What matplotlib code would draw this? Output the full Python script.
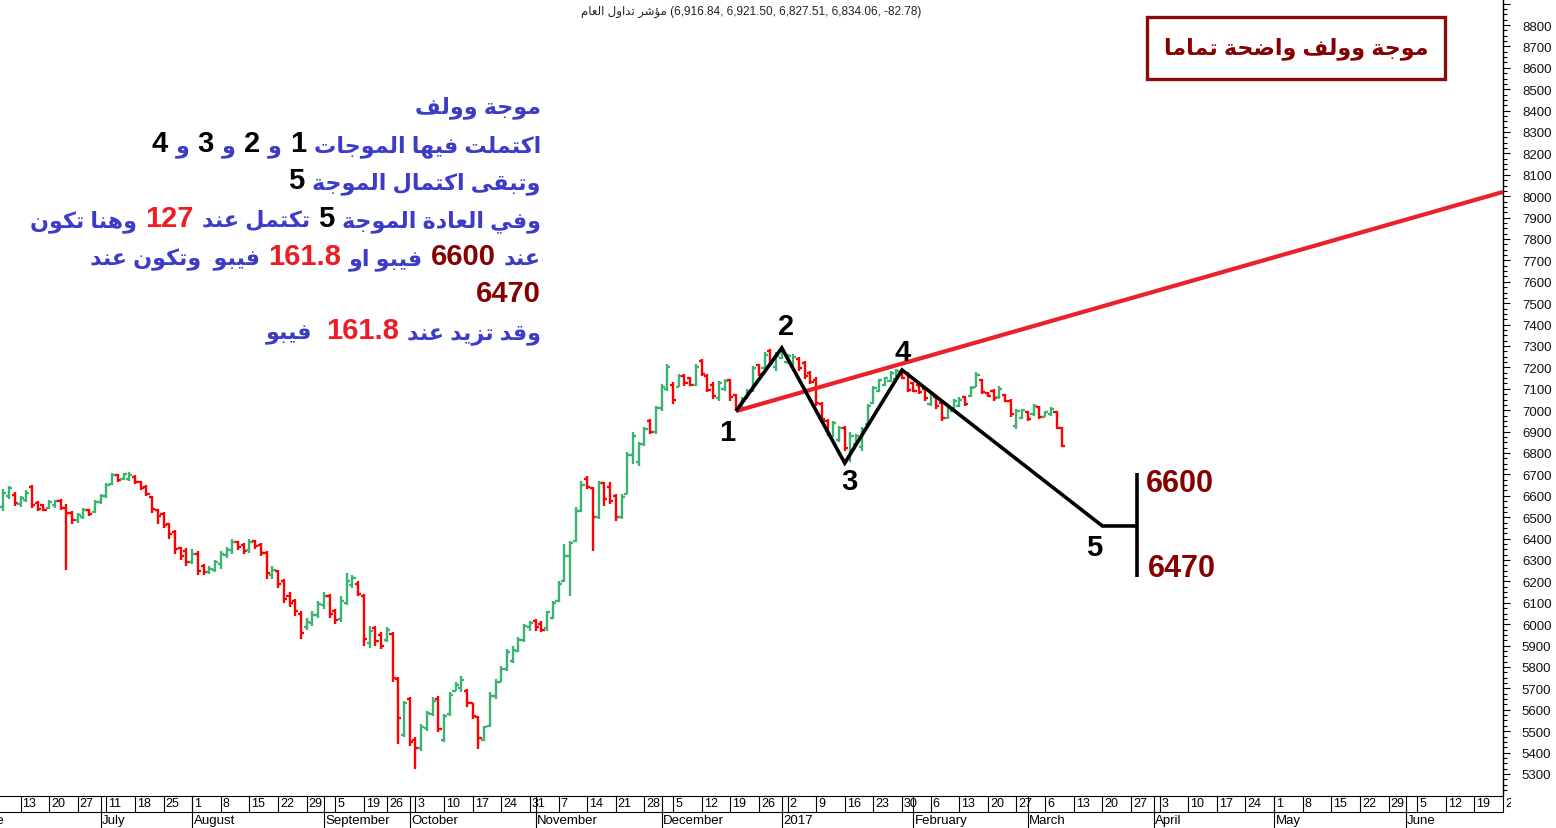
import numpy as np
import pandas as pd
import matplotlib
matplotlib.use('Agg')
import matplotlib.pyplot as plt
from matplotlib.collections import LineCollection
from matplotlib.patches import Rectangle
from matplotlib.ticker import MultipleLocator, FuncFormatter

# ---------------- data ----------------
holidays = ['2016-07-03', '2016-07-04', '2016-07-05', '2016-07-06', '2016-07-07',
            '2016-09-11', '2016-09-12', '2016-09-13', '2016-09-14', '2016-09-15',
            '2016-09-22']
first_bar = '2016-06-08'

O = [6550, 6600, 6605, 6560, 6580, 6640, 6565, 6555, 6545, 6555,
     6575, 6545, 6520, 6485, 6500, 6535, 6525, 6570, 6600, 6655,
     6695, 6680, 6680, 6690, 6665, 6640, 6595, 6535, 6515, 6470,
     6430, 6355, 6340, 6290, 6330, 6270, 6245, 6255, 6280, 6325,
     6345, 6385, 6370, 6345, 6390, 6370, 6335, 6230, 6250, 6200,
     6130, 6110, 6050, 5985, 6005, 6045, 6090, 6130, 6060, 6025,
     6100, 6185, 6190, 6130, 5910, 5980, 5950, 5925, 5955, 5745,
     5480, 5650, 5460, 5420, 5515, 5580, 5650, 5460, 5580, 5690,
     5700, 5690, 5630, 5565, 5460, 5525, 5665, 5730, 5790, 5830,
     5875, 5925, 5985, 6015, 6000, 5980, 6030, 6110, 6200, 6320,
     6390, 6530, 6680, 6635, 6500, 6660, 6640, 6600, 6500, 6610,
     6790, 6760, 6840, 6950, 6900, 7010, 7100, 7120, 7110, 7160,
     7150, 7120, 7230, 7160, 7120, 7055, 7100, 7140, 7070, 7010,
     7055, 7090, 7210, 7195, 7275, 7200, 7245, 7225, 7215, 7240,
     7220, 7175, 7140, 7030, 6950, 6880, 6860, 6915, 6780, 6840,
     6830, 6935, 7035, 7090, 7120, 7135, 7145, 7180, 7170, 7125,
     7120, 7100, 7030, 7060, 7035, 6965, 6995, 7020, 7060, 7065,
     7110, 7140, 7080, 7090, 7060, 7070, 7045, 6925, 6965, 6990,
     6980, 7015, 6970, 6980, 6990, 6916.84]
H_ = [6631, 6647, 6616, 6600, 6625, 6650, 6575, 6560, 6580, 6580,
      6585, 6560, 6530, 6520, 6545, 6540, 6580, 6610, 6660, 6705,
      6700, 6705, 6710, 6695, 6670, 6650, 6600, 6540, 6525, 6475,
      6440, 6360, 6355, 6350, 6340, 6280, 6270, 6300, 6340, 6360,
      6400, 6390, 6380, 6400, 6395, 6380, 6340, 6270, 6255, 6210,
      6150, 6120, 6060, 6030, 6060, 6110, 6150, 6140, 6070, 6130,
      6240, 6230, 6200, 6140, 5990, 5990, 5962, 5985, 5962, 5751,
      5642, 5658, 5471, 5533, 5596, 5658, 5666, 5580, 5681, 5728,
      5759, 5697, 5634, 5572, 5525, 5681, 5744, 5806, 5884, 5899,
      5938, 6001, 6016, 6024, 6016, 6063, 6110, 6203, 6375, 6390,
      6546, 6671, 6694, 6639, 6671, 6663, 6663, 6608, 6608, 6803,
      6896, 6850, 6920, 6959, 7021, 7122, 7216, 7130, 7169, 7169,
      7154, 7216, 7239, 7169, 7130, 7138, 7146, 7146, 7076, 7060,
      7099, 7208, 7216, 7270, 7286, 7270, 7290, 7262, 7262, 7247,
      7231, 7185, 7154, 7037, 6959, 6951, 6928, 6928, 6896, 6889,
      6920, 7029, 7115, 7146, 7154, 7185, 7193, 7189, 7177, 7130,
      7130, 7107, 7083, 7068, 7044, 7021, 7052, 7060, 7068, 7115,
      7177, 7146, 7083, 7099, 7115, 7076, 7052, 7006, 7006, 6998,
      7029, 7021, 6998, 7013, 6998, 6921.50]
L_ = [6530, 6585, 6553, 6546, 6570, 6545, 6530, 6530, 6540, 6545,
      6535, 6255, 6470, 6475, 6490, 6505, 6520, 6560, 6590, 6650,
      6665, 6675, 6670, 6655, 6625, 6600, 6520, 6470, 6450, 6400,
      6330, 6300, 6270, 6280, 6230, 6230, 6235, 6245, 6260, 6310,
      6330, 6345, 6330, 6335, 6350, 6320, 6210, 6210, 6170, 6100,
      6080, 6040, 5930, 5975, 5990, 6030, 6070, 6030, 6000, 6010,
      6090, 6170, 6130, 5900, 5890, 5900, 5884, 5915, 5728, 5440,
      5471, 5432, 5323, 5409, 5502, 5572, 5494, 5448, 5572, 5689,
      5681, 5611, 5557, 5416, 5455, 5518, 5650, 5728, 5783, 5821,
      5868, 5915, 5970, 5970, 5962, 5970, 6024, 6102, 6195, 6133,
      6382, 6523, 6632, 6343, 6491, 6554, 6561, 6483, 6491, 6608,
      6748, 6741, 6834, 6889, 6889, 6998, 7091, 7029, 7107, 7115,
      7115, 7115, 7161, 7083, 7052, 7044, 7091, 7044, 6998, 6998,
      7052, 7083, 7161, 7193, 7208, 7185, 7239, 7216, 7208, 7185,
      7146, 7122, 7021, 6951, 6881, 6873, 6850, 6811, 6757, 6834,
      6811, 6928, 7029, 7083, 7115, 7130, 7138, 7146, 7083, 7083,
      7076, 7044, 7021, 7006, 6951, 6959, 6990, 7013, 7021, 7060,
      7107, 7076, 7060, 7044, 7052, 7037, 6967, 6912, 6959, 6951,
      6975, 6959, 6967, 6975, 6910, 6827.51]
C = [6615, 6635, 6565, 6590, 6615, 6555, 6540, 6535, 6570, 6575,
     6545, 6520, 6485, 6510, 6535, 6515, 6570, 6600, 6650, 6695,
     6675, 6700, 6695, 6665, 6635, 6610, 6540, 6505, 6465, 6420,
     6350, 6320, 6290, 6330, 6250, 6245, 6260, 6290, 6330, 6345,
     6385, 6360, 6340, 6385, 6365, 6335, 6240, 6255, 6190, 6120,
     6100, 6060, 5960, 6010, 6045, 6095, 6130, 6050, 6020, 6110,
     6200, 6215, 6140, 5930, 5970, 5920, 5900, 5975, 5750, 5560,
     5630, 5450, 5420, 5520, 5585, 5640, 5510, 5570, 5670, 5715,
     5740, 5630, 5570, 5470, 5520, 5665, 5730, 5790, 5870, 5880,
     5925, 5990, 6005, 5985, 5975, 6055, 6100, 6190, 6320, 6380,
     6530, 6650, 6640, 6500, 6660, 6585, 6575, 6500, 6595, 6790,
     6880, 6840, 6910, 6900, 7010, 7110, 7200, 7050, 7160, 7125,
     7120, 7200, 7170, 7095, 7065, 7125, 7135, 7060, 7010, 7050,
     7090, 7195, 7170, 7260, 7220, 7255, 7275, 7255, 7250, 7195,
     7160, 7130, 7035, 6960, 6890, 6940, 6915, 6825, 6880, 6880,
     6910, 7020, 7105, 7140, 7150, 7175, 7185, 7150, 7095, 7090,
     7085, 7055, 7075, 7020, 6965, 7010, 7045, 7050, 7030, 7105,
     7165, 7085, 7065, 7055, 7100, 7045, 6980, 6995, 7000, 6960,
     7020, 6970, 6990, 7005, 6917, 6834.06]

wave_dates = ['2016-12-20', '2017-01-01', '2017-01-16', '2017-01-30', '2017-03-20', '2017-03-28']
wave_prices = [6996, 7291, 6753, 7188, 6459, 6459]
target_date = '2017-03-28'
target_prices = [6706, 6220]
trend_dates = ['2016-12-20', '2017-06-26']
trend_prices = [6996, 8020]

title_ar = 'مؤشر تداول العام'
title_vals = '(6,916.84, 6,921.50, 6,827.51, 6,834.06, -82.78)'
box_text = 'موجة وولف واضحة تماما'
wave_labels = ['1', '2', '3', '4', '5']
target_labels = ['6600', '6470']

BLUE = '#3c3cc8'
RED = '#ee1c24'
DRED = '#850000'
BLK = '#000000'
note_lines = [
    [('موجة وولف', BLUE)],
    [('اكتملت فيها الموجات', BLUE), ('1', BLK), ('و', BLUE), ('2', BLK), ('و', BLUE), ('3', BLK), ('و', BLUE), ('4', BLK)],
    [('وتبقى اكتمال الموجة', BLUE), ('5', BLK)],
    [('وفي العادة الموجة', BLUE), ('5', BLK), ('تكتمل عند', BLUE), ('127', RED), ('وهنا تكون', BLUE)],
    [('عند', BLUE), ('6600', DRED), ('فيبو او', BLUE), ('161.8', RED), ('فيبو  وتكون عند', BLUE)],
    [('6470', DRED)],
    [('وقد تزيد عند', BLUE), ('161.8', RED), (' فيبو', BLUE)],
]

# ---------------- arabic shaping ----------------
AR_FORMS = {
    '\u0622': ('\uFE81', '\uFE82', None, None),
    '\u0623': ('\uFE83', '\uFE84', None, None),
    '\u0624': ('\uFE85', '\uFE86', None, None),
    '\u0625': ('\uFE87', '\uFE88', None, None),
    '\u0626': ('\uFE89', '\uFE8A', '\uFE8B', '\uFE8C'),
    '\u0627': ('\uFE8D', '\uFE8E', None, None),
    '\u0628': ('\uFE8F', '\uFE90', '\uFE91', '\uFE92'),
    '\u0629': ('\uFE93', '\uFE94', None, None),
    '\u062A': ('\uFE95', '\uFE96', '\uFE97', '\uFE98'),
    '\u062B': ('\uFE99', '\uFE9A', '\uFE9B', '\uFE9C'),
    '\u062C': ('\uFE9D', '\uFE9E', '\uFE9F', '\uFEA0'),
    '\u062D': ('\uFEA1', '\uFEA2', '\uFEA3', '\uFEA4'),
    '\u062E': ('\uFEA5', '\uFEA6', '\uFEA7', '\uFEA8'),
    '\u062F': ('\uFEA9', '\uFEAA', None, None),
    '\u0630': ('\uFEAB', '\uFEAC', None, None),
    '\u0631': ('\uFEAD', '\uFEAE', None, None),
    '\u0632': ('\uFEAF', '\uFEB0', None, None),
    '\u0633': ('\uFEB1', '\uFEB2', '\uFEB3', '\uFEB4'),
    '\u0634': ('\uFEB5', '\uFEB6', '\uFEB7', '\uFEB8'),
    '\u0635': ('\uFEB9', '\uFEBA', '\uFEBB', '\uFEBC'),
    '\u0636': ('\uFEBD', '\uFEBE', '\uFEBF', '\uFEC0'),
    '\u0637': ('\uFEC1', '\uFEC2', '\uFEC3', '\uFEC4'),
    '\u0638': ('\uFEC5', '\uFEC6', '\uFEC7', '\uFEC8'),
    '\u0639': ('\uFEC9', '\uFECA', '\uFECB', '\uFECC'),
    '\u063A': ('\uFECD', '\uFECE', '\uFECF', '\uFED0'),
    '\u0641': ('\uFED1', '\uFED2', '\uFED3', '\uFED4'),
    '\u0642': ('\uFED5', '\uFED6', '\uFED7', '\uFED8'),
    '\u0643': ('\uFED9', '\uFEDA', '\uFEDB', '\uFEDC'),
    '\u0644': ('\uFEDD', '\uFEDE', '\uFEDF', '\uFEE0'),
    '\u0645': ('\uFEE1', '\uFEE2', '\uFEE3', '\uFEE4'),
    '\u0646': ('\uFEE5', '\uFEE6', '\uFEE7', '\uFEE8'),
    '\u0647': ('\uFEE9', '\uFEEA', '\uFEEB', '\uFEEC'),
    '\u0648': ('\uFEED', '\uFEEE', None, None),
    '\u0649': ('\uFEEF', '\uFEF0', None, None),
    '\u064A': ('\uFEF1', '\uFEF2', '\uFEF3', '\uFEF4'),
}
LAM_ALEF = {'\u0622': ('\uFEF5', '\uFEF6'), '\u0623': ('\uFEF7', '\uFEF8'),
            '\u0625': ('\uFEF9', '\uFEFA'), '\u0627': ('\uFEFB', '\uFEFC')}


def is_ar(s):
    return any('\u0600' <= ch <= '\u06FF' for ch in s)


def shape(s):
    toks = []
    i = 0
    while i < len(s):
        c = s[i]
        if c == '\u0644' and i + 1 < len(s) and s[i + 1] in LAM_ALEF:
            toks.append(('LA', s[i + 1]))
            i += 2
        else:
            toks.append((c, None))
            i += 1

    def kind(t):
        if t[0] == 'LA':
            return 'R'
        f = AR_FORMS.get(t[0])
        if f is None:
            return None
        return 'D' if f[2] else 'R'

    out = []
    for j, t in enumerate(toks):
        k = kind(t)
        if k is None:
            out.append(t[0])
            continue
        jp = j > 0 and kind(toks[j - 1]) == 'D'
        jn = k == 'D' and j + 1 < len(toks) and kind(toks[j + 1]) is not None
        if t[0] == 'LA':
            out.append(LAM_ALEF[t[1]][1 if jp else 0])
            continue
        f = AR_FORMS[t[0]]
        if jp and jn:
            out.append(f[3])
        elif jp:
            out.append(f[1])
        elif jn:
            out.append(f[2])
        else:
            out.append(f[0])
    return ''.join(out)[::-1]


def vis(s):
    return shape(s) if is_ar(s) else s


# ---------------- figure ----------------
W, Hpx = 1556, 829
FAM = ['Liberation Sans', 'DejaVu Sans']
plt.rcParams['font.family'] = FAM
fig = plt.figure(figsize=(W / 100, Hpx / 100), dpi=100)

cal = pd.bdate_range('2016-05-29', '2017-07-10', freq='C',
                     weekmask='Sun Mon Tue Wed Thu', holidays=holidays)
ref = cal.get_loc(pd.Timestamp('2016-06-13'))


def X(d):
    return cal.get_loc(pd.Timestamp(d)) - ref


PX0, PXD = 20.5, 5.724
AX_R = 1503
xl0 = -PX0 / PXD
xl1 = (AX_R - PX0) / PXD
ytop = 8800 + 26 * 100 / 21.4
ybot = 8800 - (796 - 26) * 100 / 21.4

ax = fig.add_axes([0, 33 / Hpx, AX_R / W, 796 / Hpx])
ax.set_xlim(xl0, xl1)
ax.set_ylim(ybot, ytop)
for s in ['top', 'left', 'bottom']:
    ax.spines[s].set_visible(False)
ax.spines['right'].set_linewidth(1.0)
ax.set_xticks([])
ax.yaxis.tick_right()
ax.yaxis.set_major_locator(MultipleLocator(100))
ax.yaxis.set_minor_locator(MultipleLocator(25))
ax.yaxis.set_major_formatter(FuncFormatter(lambda v, p: '%d' % v if 5300 <= v <= 8800 else ''))
ax.tick_params(axis='y', which='major', length=5, width=0.8, pad=8.6, labelsize=9.5, labelcolor='#111111')
ax.tick_params(axis='y', which='minor', length=2.6, width=0.8)

# OHLC bars
bx = np.arange(len(C)) + X(first_bar)
segs, cols = [], []
tk = 0.55
for x, o, h, l, c in zip(bx, O, H_, L_, C):
    col = '#3cb371' if c >= o else '#ff0000'
    segs += [[(x, l), (x, h)], [(x - tk, o), (x, o)], [(x, c), (x + tk, c)]]
    cols += [col] * 3
ax.add_collection(LineCollection(segs, colors=cols, linewidths=1.7, capstyle='butt'))

# trend line
tx = [X(d) for d in trend_dates]
ax.plot(tx, trend_prices, color='#ec2027', lw=3.0, solid_capstyle='butt', clip_on=True)

# wave lines
wx = [X(d) for d in wave_dates]
ax.plot(wx, wave_prices, color='black', lw=2.6, solid_joinstyle='miter', solid_capstyle='butt')
tgx = X(target_date)
ax.plot([tgx, tgx], target_prices, color='black', lw=2.6, solid_capstyle='butt')


def ptext(x, y, s, **kw):
    return fig.text(x / W, 1 - y / Hpx, s, **kw)


AR_SIZE = 16
NUM_SIZE = 21

# wave labels
for (lx, ly), s in zip([(727, 433), (786, 327), (849, 482), (903, 353), (1094, 548)], wave_labels):
    ptext(lx, ly, s, fontsize=NUM_SIZE, fontweight='bold', color='black', ha='center', va='center')
ptext(1146, 484, target_labels[0], fontsize=22, fontweight='bold', color=DRED, ha='left', va='center')
ptext(1148, 569, target_labels[1], fontsize=22, fontweight='bold', color=DRED, ha='left', va='center')

# title
ptext(751, 12, vis(title_ar) + ' ' + title_vals, fontsize=8.5, color='#222222', ha='center', va='center')

# box
fig.patches.append(Rectangle((1147 / W, 1 - 80 / Hpx), (1445 - 1147) / W, (80 - 18) / Hpx,
                             transform=fig.transFigure, fill=False, edgecolor='#8b0a0a', lw=2.4))
ptext(1296, 49, vis(box_text), fontsize=AR_SIZE, fontweight='bold', color=DRED, ha='center', va='center')

# notes (right-to-left composition)
fig.canvas.draw()
rend = fig.canvas.get_renderer()
base_y = [113, 152, 189.5, 227, 265, 302, 339.5]
for segs_, by in zip(note_lines, base_y):
    x = 541
    for s, col in segs_:
        ar = is_ar(s)
        t = ptext(x, by, vis(s), fontsize=AR_SIZE if ar else NUM_SIZE, fontweight='bold',
                  color=col, ha='right', va='baseline')
        w = t.get_window_extent(renderer=rend).width
        x -= w + 8

# bottom date axis
BR = 1511
axb = fig.add_axes([0, 0, BR / W, 33 / Hpx])
axb.set_xlim(xl0, (BR - PX0) / PXD)
axb.set_ylim(0, 33)
axb.axis('off')
axb.plot([xl0, xl1], [32.5, 32.5], color='black', lw=0.8)
axb.plot([xl0, xl1], [16, 16], color='black', lw=0.8)
mondays = [d for d in cal if d.weekday() == 0]
for d in mondays:
    x = X(d)
    if x < xl0 - 1 or x > xl1 + 1:
        continue
    axb.plot([x, x], [16, 32.5], color='black', lw=0.8)
    axb.text(x + 0.35, 24.5, str(d.day), fontsize=9, ha='left', va='center', clip_on=True)
months = pd.Series(cal).groupby([cal.year, cal.month]).first()
for d in months:
    x = X(d)
    if x > xl1 + 1:
        continue
    axb.plot([x, x], [0, 32.5], color='black', lw=0.8)
    name = str(d.year) if d.month == 1 else d.strftime('%B')
    axb.text(x + 0.25, 8, name, fontsize=9.5, ha='left', va='center', clip_on=True)

fig.savefig('out.png', dpi=100)
